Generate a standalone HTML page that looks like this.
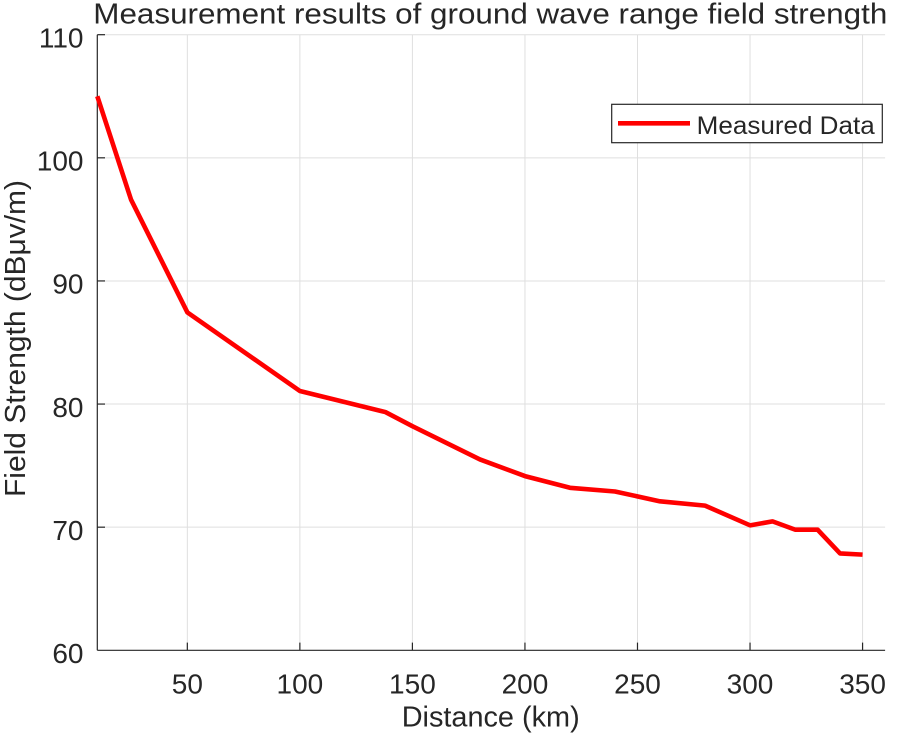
<!DOCTYPE html>
<html>
<head>
<meta charset="utf-8">
<style>
html,body{margin:0;padding:0;background:#fff;}
svg{display:block;}
text{font-family:"Liberation Sans",Arial,sans-serif;fill:#262626;}
</style>
</head>
<body>
<svg width="898" height="739" viewBox="0 0 898 739" xmlns="http://www.w3.org/2000/svg">
<rect width="898" height="739" fill="#fff"/>
<!-- grid -->
<g stroke="#dfdfdf" stroke-width="1">
<line x1="187.33" y1="34.7" x2="187.33" y2="650.3"/>
<line x1="299.87" y1="34.7" x2="299.87" y2="650.3"/>
<line x1="412.41" y1="34.7" x2="412.41" y2="650.3"/>
<line x1="524.95" y1="34.7" x2="524.95" y2="650.3"/>
<line x1="637.49" y1="34.7" x2="637.49" y2="650.3"/>
<line x1="750.03" y1="34.7" x2="750.03" y2="650.3"/>
<line x1="862.57" y1="34.7" x2="862.57" y2="650.3"/>
<line x1="97.3" y1="34.7" x2="885.1" y2="34.7"/>
<line x1="97.3" y1="157.82" x2="885.1" y2="157.82"/>
<line x1="97.3" y1="280.94" x2="885.1" y2="280.94"/>
<line x1="97.3" y1="404.06" x2="885.1" y2="404.06"/>
<line x1="97.3" y1="527.18" x2="885.1" y2="527.18"/>
</g>
<!-- axes -->
<g stroke="#262626" stroke-width="1.2" fill="none">
<line x1="97.3" y1="34.7" x2="97.3" y2="650.3"/>
<line x1="97.3" y1="650.3" x2="885.1" y2="650.3"/>
<line x1="97.3" y1="34.7" x2="105" y2="34.7"/>
<line x1="97.3" y1="157.82" x2="105" y2="157.82"/>
<line x1="97.3" y1="280.94" x2="105" y2="280.94"/>
<line x1="97.3" y1="404.06" x2="105" y2="404.06"/>
<line x1="97.3" y1="527.18" x2="105" y2="527.18"/>
<line x1="187.33" y1="650.3" x2="187.33" y2="642.6"/>
<line x1="299.87" y1="650.3" x2="299.87" y2="642.6"/>
<line x1="412.41" y1="650.3" x2="412.41" y2="642.6"/>
<line x1="524.95" y1="650.3" x2="524.95" y2="642.6"/>
<line x1="637.49" y1="650.3" x2="637.49" y2="642.6"/>
<line x1="750.03" y1="650.3" x2="750.03" y2="642.6"/>
<line x1="862.57" y1="650.3" x2="862.57" y2="642.6"/>
</g>
<!-- y tick labels -->
<g font-size="28" text-anchor="end">
<text x="83.5" y="47.4">110</text>
<text x="83.5" y="170.5">100</text>
<text x="83.5" y="293.6">90</text>
<text x="83.5" y="416.8">80</text>
<text x="83.5" y="539.9">70</text>
<text x="83.5" y="663">60</text>
</g>
<!-- x tick labels -->
<g font-size="28" text-anchor="middle">
<text x="187.33" y="693.5">50</text>
<text x="299.87" y="693.5">100</text>
<text x="412.41" y="693.5">150</text>
<text x="524.95" y="693.5">200</text>
<text x="637.49" y="693.5">250</text>
<text x="750.03" y="693.5">300</text>
<text x="862.57" y="693.5">350</text>
</g>
<!-- data -->
<polyline fill="none" stroke="#ff0000" stroke-width="4.6" stroke-linejoin="round" stroke-linecap="butt"
points="97.3,96.26 131.06,199.68 187.33,312.34 299.87,391.0 385.40,412.06 412.41,426.22 479.94,459.46 524.95,476.09 569.97,487.78 614.98,491.48 660.0,501.32 705.02,505.63 750.03,525.33 772.54,521.39 795.05,529.64 817.55,529.64 840.06,553.4 862.57,554.63"/>
<!-- legend -->
<rect x="611.7" y="104.3" width="270.6" height="38.4" fill="#fff" stroke="#262626" stroke-width="1.2"/>
<line x1="618" y1="123.3" x2="690" y2="123.3" stroke="#ff0000" stroke-width="4.6"/>
<text x="696.7" y="134" font-size="25" textLength="178" lengthAdjust="spacingAndGlyphs">Measured Data</text>
<!-- title -->
<text x="93.3" y="23.5" font-size="29" textLength="794" lengthAdjust="spacingAndGlyphs">Measurement results of ground wave range field strength</text>
<!-- x label -->
<text x="401.7" y="726.5" font-size="29" textLength="178" lengthAdjust="spacingAndGlyphs">Distance (km)</text>
<!-- y label -->
<text transform="translate(25,497) rotate(-90)" x="0" y="0" font-size="29" textLength="317" lengthAdjust="spacingAndGlyphs">Field Strength (dBμv/m)</text>
</svg>
</body>
</html>
